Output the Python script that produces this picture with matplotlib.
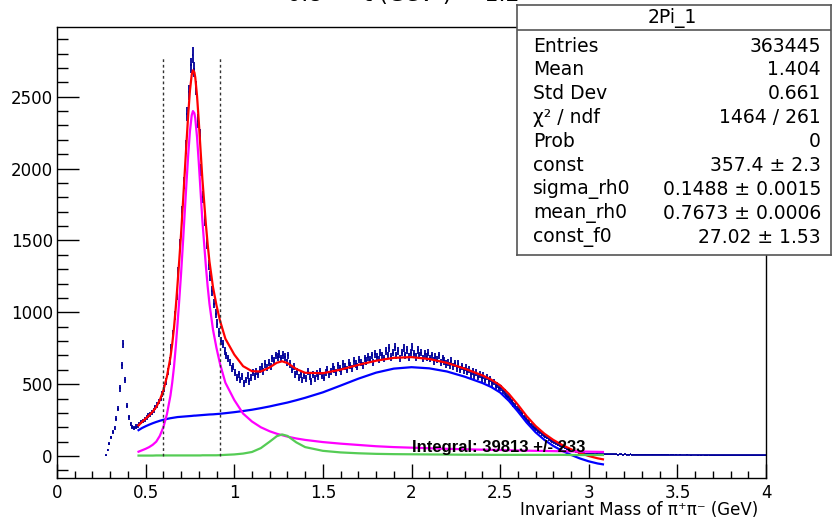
import numpy as np
import matplotlib
matplotlib.use("Agg")
import matplotlib.pyplot as plt

# ---------------- data ----------------
bin_low = 0.27
bin_width = 0.01
counts = [
    5, 40, 85,
    130, 165, 195, 260, 330, 470, 630, 780, 530, 350,
    270, 225, 200, 195, 205, 210, 225, 235, 245, 255,
    268, 280, 290, 302, 318, 338, 355, 378, 400, 432,
    470, 520, 590, 660, 750, 850, 975, 1120, 1280, 1470,
    1700, 1900, 2150, 2380, 2530, 2720, 2790, 2690, 2560, 2330,
    2230, 1990, 1800, 1640, 1480, 1330, 1250, 1150, 1060, 990,
    920, 860, 800, 780, 730, 700, 680, 650, 610, 620,
    580, 545, 570, 530, 555, 505, 530, 560, 520, 545,
    580, 555, 590, 570, 600, 620, 590, 640, 615, 650,
    625, 680, 660, 700, 690, 710, 680, 705, 690, 650,
    700, 640, 600, 620, 570, 590, 545, 570, 530, 560,
    540, 585, 550, 520, 565, 540, 575, 555, 590, 560,
    545, 580, 600, 570, 590, 620, 600, 580, 630, 610,
    590, 640, 620, 600, 650, 630, 610, 660, 640, 620,
    670, 650, 630, 680, 660, 690, 670, 700, 650, 710,
    690, 670, 720, 700, 680, 730, 700, 750, 690, 720,
    760, 700, 730, 680, 720, 750, 700, 740, 690, 720,
    760, 710, 690, 740, 700, 720, 680, 710, 690, 720,
    680, 700, 660, 690, 670, 700, 650, 680, 660, 640,
    650, 630, 660, 625, 645, 610, 640, 600, 625, 595,
    615, 585, 600, 570, 590, 560, 580, 550, 565, 540,
    560, 530, 550, 520, 535, 505, 515, 490, 495, 470,
    475, 450, 445, 420, 410, 395, 380, 360, 350, 330,
    320, 300, 290, 270, 260, 245, 232, 218, 205, 195,
    185, 172, 165, 152, 145, 135, 128, 118, 110, 102,
    95, 88, 80, 74, 68, 62, 56, 51, 46, 42,
    37, 33, 30, 27, 24, 22, 20, 18, 17, 16,
    15, 14, 14, 13, 14, 13, 12, 13, 12, 12,
    12, 11, 12, 11, 11, 12, 10, 11, 11, 10,
    11, 10, 10, 11, 10, 9, 10, 10, 9, 10,
    9, 10, 9, 9, 8, 9, 9, 8, 9, 8,
    8, 9, 8, 8, 8, 7, 8, 8, 7, 8,
    7, 8, 7, 7, 7, 8, 7, 6, 7, 7,
    7, 6, 7, 6, 7, 6, 6, 7, 6, 6,
    6, 6, 5, 6, 6, 5, 6, 5, 6, 5,
    5, 6, 5, 5, 5, 6, 5, 5, 4, 5,
    5, 4, 5, 5, 4, 5, 4, 4, 5, 4,
]

curve_x = [0.46, 0.48, 0.50, 0.52, 0.54, 0.56, 0.58, 0.60, 0.62, 0.64,
           0.65, 0.66, 0.67, 0.68, 0.69, 0.70, 0.71, 0.72, 0.73, 0.74,
           0.75, 0.76, 0.767, 0.775, 0.78, 0.79, 0.80, 0.81, 0.82, 0.83,
           0.84, 0.85, 0.86, 0.88, 0.90, 0.92, 0.95, 1.00, 1.05, 1.10,
           1.15, 1.20, 1.24, 1.27, 1.30, 1.35, 1.40, 1.50, 1.60, 1.70,
           1.80, 1.90, 2.00, 2.10, 2.20, 2.30, 2.40, 2.45, 2.50, 2.55,
           2.60, 2.65, 2.70, 2.75, 2.80, 2.85, 2.90, 2.95, 3.00, 3.05, 3.08]

rho_curve = [30, 40, 50, 62, 78, 100, 140, 200, 290, 420,
             510, 620, 760, 920, 1090, 1270, 1470, 1680, 1890, 2090,
             2260, 2370, 2400, 2385, 2350, 2220, 2040, 1840, 1640, 1480,
             1320, 1180, 1060, 880, 750, 640, 510, 390, 295, 240,
             200, 172, 155, 145, 135, 122, 112, 97, 86, 77,
             68, 62, 58, 54, 50, 47, 44, 43, 42, 40,
             39, 37, 36, 35, 34, 33, 32, 31, 30, 29, 28]

bkg_curve = [180, 195, 207, 218, 228, 237, 245, 252, 258, 263,
             265, 267, 269, 271, 272, 273, 274, 275, 276, 277,
             278, 279, 280, 281, 281, 282, 283, 284, 285, 286,
             287, 288, 289, 290, 292, 294, 298, 305, 313, 322,
             333, 345, 356, 364, 372, 388, 405, 443, 490, 538,
             580, 608, 618, 610, 588, 552, 508, 480, 442, 383,
             310, 232, 165, 112, 70, 36, 8, -17, -37, -52, -58]

f0_curve = [3, 3, 3, 3, 3, 4, 4, 4, 4, 4,
            4, 4, 4, 4, 4, 4, 4, 4, 4, 4,
            4, 4, 4, 4, 4, 4, 4, 4, 5, 5,
            5, 5, 5, 5, 5, 6, 8, 11, 17, 28,
            55, 100, 138, 150, 140, 95, 62, 36, 25, 19,
            15, 13, 12, 11, 10, 9, 9, 8, 8, 8,
            8, 8, 8, 8, 8, 8, 7, 7, 7, 7, 7]

total_curve = [213, 238, 260, 283, 309, 341, 389, 456, 552, 687,
               779, 891, 1033, 1195, 1366, 1547, 1748, 1959, 2170, 2371,
               2542, 2653, 2684, 2670, 2635, 2506, 2327, 2128, 1930, 1771,
               1612, 1473, 1354, 1175, 1047, 940, 816, 706, 625, 590,
               588, 617, 649, 659, 647, 605, 579, 576, 601, 634,
               663, 683, 688, 675, 648, 608, 561, 531, 492, 431,
               357, 277, 209, 155, 112, 77, 47, 21, 0, -16, -23]

window_edges = [0.6, 0.92]
window_top = 2780

stats_title = "2Pi_1"
stats_labels = ["Entries", "Mean", "Std Dev", "χ² / ndf", "Prob", "const",
                "sigma_rh0", "mean_rh0", "const_f0"]
stats_values = ["363445", "1.404", "0.661", "1464 / 261", "0",
                "357.4 ± 2.3", "0.1488 ± 0.0015", "0.7673 ± 0.0006",
                "27.02 ± 1.53"]
integral_label = "Integral: 39813 +/- 233"
title_text = "0.8 < -t (GeV²) < 1.2"
x_label = "Invariant Mass of π⁺π⁻ (GeV)"
x_ticks = [0, 0.5, 1, 1.5, 2, 2.5, 3, 3.5, 4]
x_ticklabels = ["0", "0.5", "1", "1.5", "2", "2.5", "3", "3.5", "4"]
y_ticks = [0, 500, 1000, 1500, 2000, 2500]

# ---------------- figure ----------------
plt.rcParams['font.family'] = ['DejaVu Sans']
W, H = 833, 519
fig = plt.figure(figsize=(W / 100, H / 100), dpi=100)
ax = fig.add_axes([57 / W, 1 - 478 / H, 709 / W, 451 / H])

centers = bin_low + bin_width * (np.arange(len(counts)) + 0.5)
cnt = np.array(counts, dtype=float)
ax.errorbar(centers, cnt, yerr=np.sqrt(cnt), xerr=bin_width / 2, fmt='none',
            ecolor='#000099', elinewidth=1.3, capsize=0, zorder=2)

ax.plot(curve_x, total_curve, color='#ff0000', lw=1.6, zorder=3)
ax.plot(curve_x, bkg_curve, color='#0000ff', lw=1.6, zorder=4)
ax.plot(curve_x, rho_curve, color='#ff00ff', lw=1.6, zorder=4)
ax.plot(curve_x, f0_curve, color='#55cc55', lw=1.6, zorder=4)

for xe in window_edges:
    ax.plot([xe, xe], [0, window_top], color='#333333', lw=1.0,
            ls=(0, (2, 2)), zorder=5)

ax.text(2.0, 28, integral_label, fontsize=12, fontweight='bold',
        family=['Liberation Sans', 'DejaVu Sans'],
        ha='left', va='baseline', color='black', zorder=6)

ax.set_xlim(0, 4)
ax.set_ylim(-153, 2985)
ax.set_xticks(x_ticks)
ax.set_xticklabels(x_ticklabels)
ax.set_xticks(np.arange(0, 4.001, 0.1), minor=True)
ax.set_yticks(y_ticks)
ax.set_yticks(np.arange(-100, 2901, 100), minor=True)
ax.tick_params(axis='both', which='both', direction='in', top=False,
               right=False, width=1, labelsize=12, color='black')
ax.tick_params(axis='x', which='major', length=10, pad=4)
ax.tick_params(axis='x', which='minor', length=5)
ax.tick_params(axis='y', which='major', length=16, pad=3)
ax.tick_params(axis='y', which='minor', length=8)
for sp in ax.spines.values():
    sp.set_linewidth(1.0)
    sp.set_color('black')

fig.text(758 / W, 1 - 510 / H, x_label, ha='right', va='center', fontsize=12)
fig.text(403 / W, 1 - 1 / H, title_text, ha='center', va='baseline', fontsize=16)

# stats box
sb = fig.add_axes([517 / W, 1 - 255 / H, 314 / W, 250 / H])
sb.set_xlim(0, 1)
sb.set_ylim(0, 1)
sb.set_xticks([])
sb.set_yticks([])
sb.set_facecolor('white')
for sp in sb.spines.values():
    sp.set_linewidth(1.2)
    sp.set_color('#555555')
sb.plot([0, 1], [(255 - 30) / 250] * 2, color='#555555', lw=1.2)
sb.text((672 - 517) / 314, (255 - 17.5) / 250, stats_title, ha='center',
        va='center', fontsize=13.5)
for i, (lab, val) in enumerate(zip(stats_labels, stats_values)):
    yy = (255 - (46 + 23.9 * i)) / 250
    sb.text((533 - 517) / 314, yy, lab, ha='left', va='center', fontsize=13.5)
    sb.text((821 - 517) / 314, yy, val, ha='right', va='center', fontsize=13.5)

fig.savefig('out.png', dpi=100)
